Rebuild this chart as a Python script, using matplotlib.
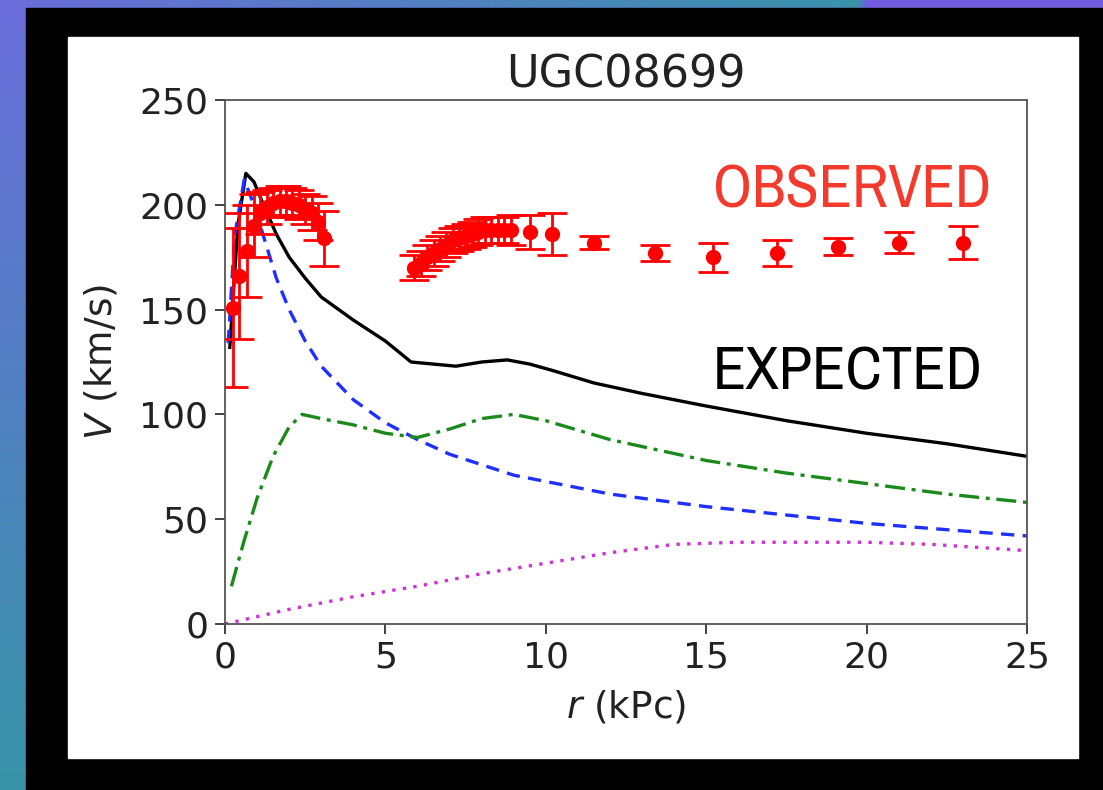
import numpy as np
import matplotlib
matplotlib.use('Agg')
import matplotlib.pyplot as plt
from matplotlib.patches import Rectangle
from matplotlib import font_manager

# observed rotation curve (kPc, km/s)
r_obs = [0.25, 0.45, 0.7, 0.9, 1.1, 1.3, 1.5, 1.7, 1.9, 2.1, 2.3, 2.5, 2.7, 2.9, 3.1,
         5.9, 6.1, 6.3, 6.5, 6.7, 6.9, 7.1, 7.3, 7.5, 7.7, 7.9, 8.1, 8.3, 8.5, 8.7, 8.9, 9.5, 10.2,
         11.5, 13.4, 15.2, 17.2, 19.1, 21.0, 23.0]
v_obs = [151, 166, 178, 190, 196, 199, 201, 202, 202, 201, 200, 198, 196, 192, 184,
         170, 172, 175, 177, 179, 181, 183, 184, 185, 186, 187, 188, 188, 188, 188, 188, 187, 186,
         182, 177, 175, 177, 180, 182, 182]
e_obs = [38, 30, 22, 15, 10, 8, 7, 7, 7, 7, 7, 7, 8, 9, 13,
         6, 6, 6, 6, 6, 6, 6, 6, 6, 6, 6, 6, 6, 6, 6, 7, 8, 10,
         3, 4, 7, 6, 4, 5, 8]

# model curves
r_tot = [0.15, 0.4, 0.65, 0.9, 1.2, 1.6, 2.0, 2.5, 3.0, 4.0, 5.0, 5.8, 6.5, 7.2, 8.0, 8.8, 9.5, 10.2,
         11.5, 13.0, 15.0, 17.5, 20.0, 22.5, 25.0]
v_tot = [132, 190, 215, 211, 200, 186, 175, 165, 156, 145, 135, 125, 124, 123, 125, 126, 124, 121,
         115, 110, 104, 97, 91, 86, 80]
r_bar = [0.1, 0.3, 0.6, 0.9, 1.2, 1.6, 2.0, 2.5, 3.0, 4.0, 5.0, 6.0, 7.0, 8.0, 9.0, 10.0,
         12.0, 15.0, 17.5, 20.0, 22.5, 25.0]
v_bar = [134, 185, 212, 200, 185, 165, 150, 135, 123, 107, 96, 88, 81, 76, 71, 68,
         62, 56, 52, 48, 45, 42]
r_gas = [0.2, 0.6, 1.0, 1.5, 2.0, 2.4, 3.0, 4.0, 5.0, 6.0, 7.0, 8.0, 9.0, 10.0,
         12.0, 15.0, 17.5, 20.0, 22.5, 25.0]
v_gas = [18, 40, 60, 80, 94, 100, 98, 95, 91, 89, 93, 98, 100, 97,
         88, 78, 72, 67, 62, 58]
r_dm = [0.0, 2.0, 4.0, 6.0, 8.0, 10.0, 12.0, 14.0, 16.0, 18.0, 20.0, 22.0, 24.0, 25.0]
v_dm = [0, 7, 13, 18, 24, 29, 34, 38, 39, 39, 39, 38, 36, 35]


def pick_narrow():
    # look for any condensed / narrow face that is installed
    for f in font_manager.fontManager.ttflist:
        nm = f.name.lower()
        if 'condensed' in nm or 'narrow' in nm:
            return dict(family=f.name, stretch=f.stretch)
    for f in font_manager.fontManager.ttflist:
        if f.stretch in ('condensed', 'semi-condensed', 'extra-condensed', 'ultra-condensed'):
            return dict(family=f.name, stretch=f.stretch)
    return None


fig = plt.figure(figsize=(11.03, 7.90), dpi=100, facecolor='black')

# gradient strips at the left and top edge
bg = fig.add_axes([0, 0, 1, 1], zorder=-5)
bg.set_axis_off()
h, w = 79, 110
img = np.zeros((h, w, 3))
purple = np.array([0.42, 0.43, 0.86])
teal = np.array([0.22, 0.58, 0.66])
for i in range(h):
    t = i / (h - 1)
    img[i, :] = purple * (1 - t) + teal * t
for j in range(w):
    t = j / (w - 1)
    if t < 0.78:
        c = purple * (1 - t / 0.78) + teal * (t / 0.78)
    else:
        c = np.array([0.45, 0.36, 0.88])
    img[0, j] = c
bg.imshow(img, extent=[0, 1, 0, 1], aspect='auto', interpolation='bilinear')
bg.add_patch(Rectangle((26 / 1103, 0), 1, 1 - 8 / 790, color='black', transform=bg.transAxes))
bg.add_patch(Rectangle((68 / 1103, 32 / 790), (1078 - 68) / 1103, (758 - 37) / 790,
                       color='white', transform=bg.transAxes))
bg.set_xlim(0, 1)
bg.set_ylim(0, 1)

ax = fig.add_axes([225 / 1103, 166 / 790, 802 / 1103, 524 / 790])
ax.plot(r_tot, v_tot, color='black', lw=2.4)
ax.plot(r_bar, v_bar, color='#1f2fff', lw=2.4, ls=(0, (4, 2.5)))
ax.plot(r_gas, v_gas, color='#1a8a1a', lw=2.4, ls=(0, (6, 2, 1.2, 2)))
ax.plot(r_dm, v_dm, color='#d030d8', lw=2.4, ls=(0, (1, 2.2)))
ax.errorbar(r_obs, v_obs, yerr=e_obs, fmt='o', color='red', ms=10, elinewidth=2,
            capsize=11, capthick=2)

ax.set_xlim(0, 25)
ax.set_ylim(0, 250)
ax.set_xticks([0, 5, 10, 15, 20, 25])
ax.set_yticks([0, 50, 100, 150, 200, 250])
ax.tick_params(labelsize=26, length=7, width=1.2, colors='#222222', pad=5)
for s in ax.spines.values():
    s.set_color('#555555')
    s.set_linewidth(1.3)
ax.set_title('UGC08699', fontsize=32, color='#222222', pad=9)
ax.set_xlabel('$r$ (kPc)', fontsize=27, color='#222222', labelpad=10)
ax.set_ylabel('$V$ (km/s)', fontsize=27, color='#222222', labelpad=14)

nf = pick_narrow()
if nf is not None:
    kw = dict(family=[nf['family'], 'DejaVu Sans'], fontstretch=nf['stretch'], fontsize=44)
else:
    kw = dict(family='DejaVu Sans', fontsize=36)
fig.text(713 / 1103, 1 - 207 / 790, 'OBSERVED', color='#f43a2c',
         ha='left', va='baseline', **kw)
fig.text(713 / 1103, 1 - 390 / 790, 'EXPECTED', color='black',
         ha='left', va='baseline', **kw)

fig.savefig('out.png', dpi=100, facecolor='black')
